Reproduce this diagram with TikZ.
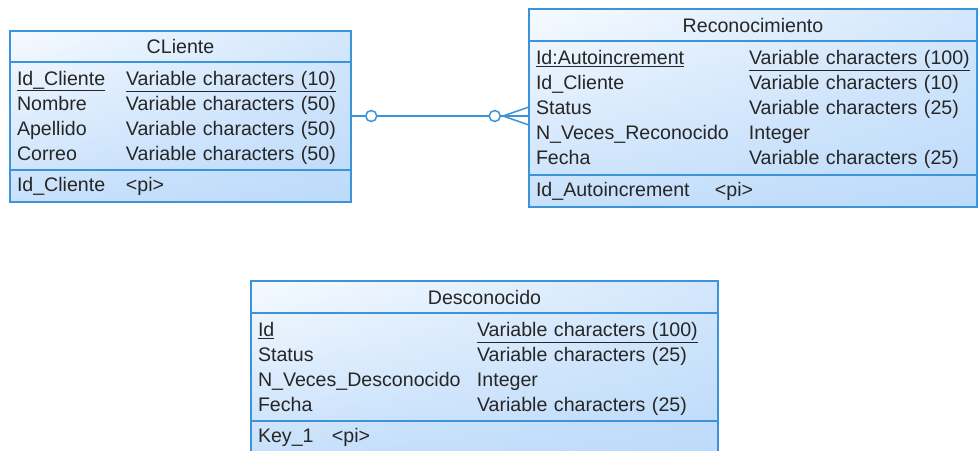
\documentclass[tikz,border=0pt]{standalone}
\usepackage{fontspec}
\setmainfont{Liberation Sans}
\usepackage{xcolor}
\usepackage{tikz}
\usetikzlibrary{positioning,backgrounds,shadings}
\definecolor{erblue}{RGB}{59,148,217}
\definecolor{erlight}{RGB}{188,218,250}
\definecolor{erpale}{RGB}{246,250,255}

\begin{document}
\begin{tikzpicture}[x=1pt,y=-1pt,
    tabpart/.style={draw=erblue,line width=1.5pt,rectangle,outer sep=0pt,
      inner xsep=7pt,inner ysep=0pt,text=black!85,
      font=\fontsize{19.6}{25}\selectfont},
    tabhead/.style={tabpart,minimum height=32pt,anchor=north west},
    tabbody/.style={tabpart,align=left},
    tabshade/.style={upper left=erpale,upper right=erlight!60!erpale,
      lower left=erlight!80!erpale,lower right=erlight},
    erline/.style={draw=erblue,line width=1.5pt},
    zero/.style={circle,draw=erblue,line width=1.5pt,fill=white,
      minimum size=11pt,inner sep=0pt}]
      \clip (0,0) rectangle (979,450);

      \node[tabhead,minimum width=341pt,minimum height=31pt] (clhead) at (10,31) {CLiente};
      \node[tabbody,text width=327pt,minimum height=108pt,below=0pt of clhead] (clbody)
      {\begin{tabular}{@{}p{109pt}@{}l@{}}
        \rule{0pt}{21pt}\underline{Id\_Cliente} & \underline{Variable characters (10)}\\
        Nombre & Variable characters (50)\\
        Apellido & Variable characters (50)\\
        Correo & Variable characters (50)
      \end{tabular}};
      \node[tabbody,text width=327pt,minimum height=32pt,below=0pt of clbody] (clkey)
      {\begin{tabular}{@{}p{109pt}@{}l@{}}Id\_Cliente & <pi>\end{tabular}};

      \node[tabhead,minimum width=448pt] (rehead) at (529,9) {Reconocimiento};
      \node[tabbody,text width=434pt,minimum height=134pt,below=0pt of rehead] (rebody)
      {\begin{tabular}{@{}p{213pt}@{}l@{}}
        \rule{0pt}{21pt}\underline{Id:Autoincrement} & \underline{Variable characters (100)}\\
        Id\_Cliente & Variable characters (10)\\
        Status & Variable characters (25)\\
        N\_Veces\_Reconocido & Integer\\
        Fecha & Variable characters (25)
      \end{tabular}};
      \node[tabbody,text width=434pt,minimum height=32pt,below=0pt of rebody] (rekey)
      {\begin{tabular}{@{}p{179pt}@{}l@{}}Id\_Autoincrement & <pi>\end{tabular}};

      \node[tabhead,minimum width=467pt] (dehead) at (251,281) {Desconocido};
      \node[tabbody,text width=453pt,minimum height=108pt,below=0pt of dehead] (debody)
      {\begin{tabular}{@{}p{219pt}@{}l@{}}
        \rule{0pt}{21pt}\underline{Id} & \underline{Variable characters (100)}\\
        Status & Variable characters (25)\\
        N\_Veces\_Desconocido & Integer\\
        Fecha & Variable characters (25)
      \end{tabular}};
      \node[tabbody,text width=453pt,minimum height=32pt,below=0pt of debody] (dekey)
      {\begin{tabular}{@{}p{74pt}@{}l@{}}Key\_1 & <pi>\end{tabular}};

      \begin{scope}[on background layer]
      \shade[tabshade] (clhead.north west) rectangle (clkey.south east);
      \shade[tabshade] (rehead.north west) rectangle (rekey.south east);
      \shade[tabshade] (dehead.north west) rectangle (dekey.south east);
      \end{scope}

      \coordinate (reend) at (rebody.west |- clbody.east);
      \draw[erline] (clbody.east) -- (reend);
      \node[zero,right=14pt of clbody.east] (clzero) {};
      \node[zero,left=28pt of reend] (rezero) {};
      \coordinate[left=26pt of reend] (refoot);
      \draw[erline] ([yshift=9pt]reend) -- (refoot) -- ([yshift=-9pt]reend);
\end{tikzpicture}
\end{document}
